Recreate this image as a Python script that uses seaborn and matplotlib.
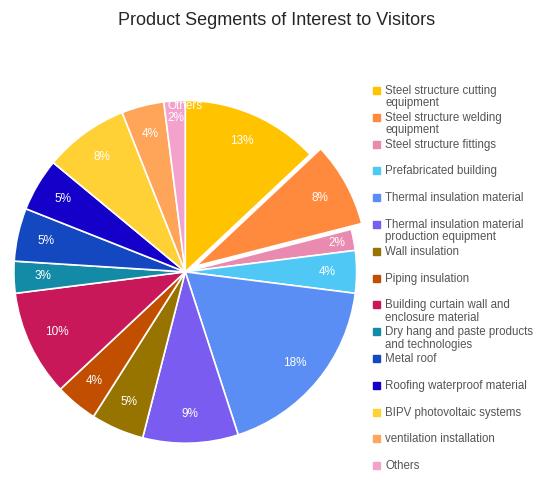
import matplotlib
matplotlib.use("Agg")
import matplotlib.pyplot as plt
import seaborn as sns
import numpy as np

sns.set_style("white")
plt.rcParams['font.family'] = ['Liberation Sans', 'DejaVu Sans']

categories = ["Steel structure cutting\nequipment", "Steel structure welding\nequipment", "Steel structure fittings",
              "Prefabricated building", "Thermal insulation material", "Thermal insulation material\nproduction equipment",
              "Wall insulation", "Piping insulation", "Building curtain wall and\nenclosure material",
              "Dry hang and paste products\nand technologies", "Metal roof", "Roofing waterproof material",
              "BIPV photovoltaic systems", "ventilation installation", "Others"]
values = [13, 8, 2, 4, 18, 9, 5, 4, 10, 3, 5, 5, 8, 4, 2]
colors = ["#FFC300", "#FF8A3D", "#E98BB0", "#4FC8F5", "#5B8EF5", "#7A5CF0", "#977400", "#C24E00",
          "#C8185A", "#148BA6", "#1448C0", "#1400C8", "#FFD135", "#FFA55A", "#F3A3CB"]
palette = sns.color_palette(colors)

fig = plt.figure(figsize=(5.53, 4.97), dpi=100)
ax = fig.add_axes([-0.0525, 0.022, 0.775, 0.862])
explode = [0.07 if i == 1 else 0 for i in range(len(values))]
wedges, texts = ax.pie(values, colors=palette, startangle=90, counterclock=False, explode=explode,
                       wedgeprops=dict(edgecolor="white", linewidth=1.2))
tot = sum(values)
for w, v in zip(wedges, values):
    ang = np.deg2rad((w.theta1 + w.theta2) / 2)
    r = 0.83 if v > 2 else 0.9
    cx, cy = w.center
    ax.text(cx + r * np.cos(ang), cy + r * np.sin(ang), f"{round(v / tot * 100)}%",
            ha="center", va="center", color="white", fontsize=8.5)
ax.text(0.0, 0.97, "Others", ha="center", va="center", color="white", fontsize=8.5)
ax.set_aspect("equal")

fig.text(0.5, 0.958, "Product Segments of Interest to Visitors", ha="center", va="center", fontsize=13)

y0 = 497 - 90
step = 26.8
for i, (lab, c) in enumerate(zip(categories, colors)):
    y = y0 - i * step
    fig.patches.append(plt.Rectangle((373 / 553, (y - 4) / 497), 7 / 553, 7 / 497, color=c, transform=fig.transFigure))
    fig.text(385 / 553, (y + 5) / 497, lab, ha="left", va="top", fontsize=8.3, color="#555555", linespacing=1.05)

fig.savefig("out.png", dpi=100)
